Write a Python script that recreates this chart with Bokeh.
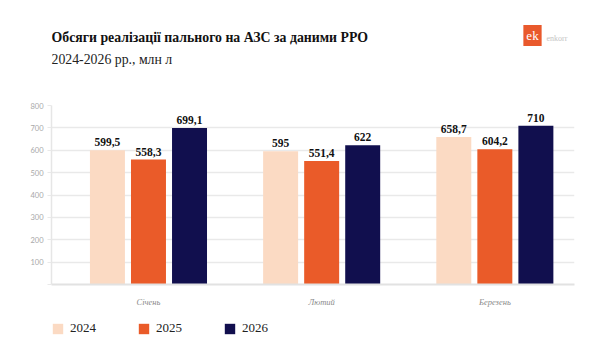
import numpy as np
from bokeh.plotting import figure
from bokeh.layouts import column
from bokeh.models import (ColumnDataSource, Label, LabelSet, Legend, LegendItem,
                          FixedTicker, Range1d)
from bokeh.embed import file_html
from bokeh.resources import INLINE

# ---- data ----
months = ["Січень", "Лютий", "Березень"]
years = ["2024", "2025", "2026"]
v2024 = [599.5, 595, 658.7]
v2025 = [558.3, 551.4, 604.2]
v2026 = [699.1, 622, 710]
y_ticks = [0, 100, 200, 300, 400, 500, 600, 700, 800]

title = "Обсяги реалізації пального на АЗС за даними РРО"
subtitle = "2024-2026 рр., млн л"

colors = ["#FBDAC3", "#EA5B29", "#110F4E"]

def fmt(v):
    return f"{v:g}".replace(".", ",")

W = 575
HEAD_H = 90
CHART_H = 220
FOOT_H = 33
LEFT = 51
RIGHT = 1

def blank(h):
    f = figure(width=W, height=h, output_backend="svg", toolbar_location=None,
               x_range=Range1d(0, 1), y_range=Range1d(0, 1),
               x_axis_type=None, y_axis_type=None, title=None,
               min_border_left=LEFT, min_border_right=RIGHT,
               min_border_top=0, min_border_bottom=0)
    f.outline_line_color = None
    f.grid.visible = False
    return f

# ---- header (title, subtitle, logo) ----
head = blank(HEAD_H)
head.add_layout(Label(x=0, y=53, x_units="screen", y_units="screen", text=title,
                      text_font="Liberation Serif", text_font_style="bold",
                      text_font_size="13.8px", text_color="#111111",
                      text_baseline="middle"))
head.add_layout(Label(x=0, y=31, x_units="screen", y_units="screen", text=subtitle,
                      text_font="Liberation Serif", text_font_size="13.8px",
                      text_color="#222222", text_baseline="middle"))
head.add_layout(Label(x=481, y=55, x_units="screen", y_units="screen", text="ek",
                      text_font="Liberation Serif", text_font_size="13px",
                      text_color="white", text_align="center", text_baseline="middle",
                      background_fill_color="#E9592C", padding=3))
head.add_layout(Label(x=495, y=52, x_units="screen", y_units="screen", text="enkorr",
                      text_font="Liberation Serif", text_font_size="8px",
                      text_color="#c4c4c4", text_baseline="middle"))

# ---- chart ----
p = figure(width=W, height=CHART_H, output_backend="svg", toolbar_location=None,
           x_range=Range1d(-0.56, 2.46), y_range=Range1d(0, 800),
           min_border_left=LEFT, min_border_right=RIGHT, min_border_top=15,
           min_border_bottom=26, title=None)
p.outline_line_color = None
p.background_fill_color = "white"
p.border_fill_color = "white"

bar_w = 0.202
step = 0.237
for i, (yr, vals) in enumerate(zip(years, [v2024, v2025, v2026])):
    off = (i - 1) * step
    src = ColumnDataSource(dict(x=[k + off for k in range(len(months))],
                                top=vals, lab=[fmt(v) for v in vals]))
    p.vbar(x="x", top="top", width=bar_w, source=src,
           fill_color=colors[i], line_color=None)
    p.add_layout(LabelSet(x="x", y="top", text="lab", source=src,
                          text_align="center", text_baseline="bottom",
                          y_offset=4, text_font="Liberation Serif",
                          text_font_style="bold", text_font_size="11.5px",
                          text_color="#111111"))

p.xgrid.visible = False
p.ygrid.grid_line_color = "#e9e9e9"
p.ygrid.grid_line_width = 1.5
p.ygrid.ticker = FixedTicker(ticks=y_ticks)

p.yaxis.ticker = FixedTicker(ticks=y_ticks)
p.yaxis.major_label_overrides = {0: ""}
p.yaxis.axis_line_color = "#e6e6e6"
p.yaxis.axis_line_width = 1.5
p.yaxis.major_tick_in = 0
p.yaxis.major_tick_out = 4
p.yaxis.major_tick_line_color = "#e9e9e9"
p.yaxis.minor_tick_line_color = None
p.yaxis.major_label_standoff = 4
p.yaxis.major_label_text_font = "Lato"
p.yaxis.major_label_text_font_size = "7.5px"
p.yaxis.major_label_text_color = "#a8a8a8"

p.xaxis.ticker = FixedTicker(ticks=list(range(len(months))))
p.xaxis.major_label_overrides = {i: m for i, m in enumerate(months)}
p.xaxis.axis_line_color = "#e2e2e2"
p.xaxis.axis_line_width = 2
p.xaxis.major_tick_line_color = None
p.xaxis.minor_tick_line_color = None
p.xaxis.major_label_standoff = 6
p.xaxis.major_label_text_font = "Liberation Serif"
p.xaxis.major_label_text_font_style = "italic"
p.xaxis.major_label_text_font_size = "8.5px"
p.xaxis.major_label_text_color = "#8a8a8a"

# ---- footer legend (swatch renderers hold no visible data) ----
foot = blank(FOOT_H)
items = []
for i, yr in enumerate(years):
    sw = ColumnDataSource(dict(x=np.array([np.nan]), top=np.array([np.nan])))
    r = foot.vbar(x="x", top="top", width=0.1, source=sw,
                  fill_color=colors[i], line_color=None)
    items.append(LegendItem(label=yr, renderers=[r]))
legend = Legend(items=items, orientation="horizontal", location=(0, 7),
                glyph_width=13, glyph_height=13, label_height=13,
                label_standoff=6, label_width=50, spacing=17,
                padding=0, margin=0, border_line_color=None,
                background_fill_alpha=0,
                label_text_font="Liberation Serif", label_text_font_size="13px",
                label_text_color="#222222")
foot.add_layout(legend, "center")

layout = column(head, p, foot, spacing=0)
open("out.html", "w").write(file_html(layout, INLINE))
